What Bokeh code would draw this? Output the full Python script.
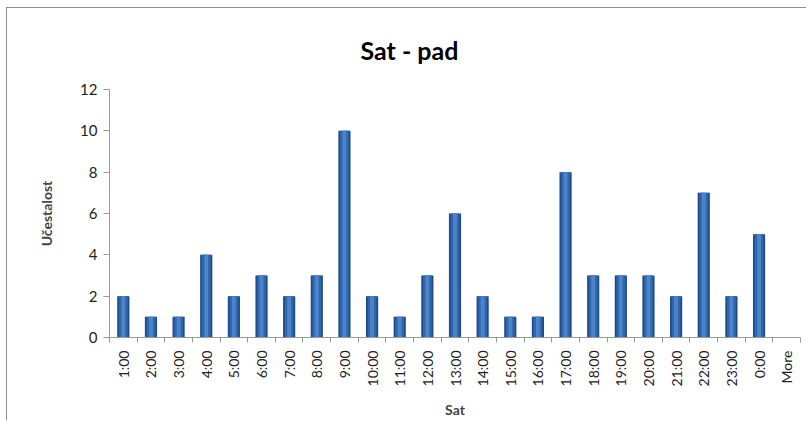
from bokeh.plotting import figure
from bokeh.models import FixedTicker, Range1d, Title
from bokeh.embed import file_html
from bokeh.resources import INLINE
import math

categories = ["1:00", "2:00", "3:00", "4:00", "5:00", "6:00", "7:00", "8:00", "9:00",
              "10:00", "11:00", "12:00", "13:00", "14:00", "15:00", "16:00", "17:00",
              "18:00", "19:00", "20:00", "21:00", "22:00", "23:00", "0:00", "More"]
counts = [2, 1, 1, 4, 2, 3, 2, 3, 10, 2, 1, 3, 6, 2, 1, 1, 8, 3, 3, 3, 2, 7, 2, 5, 0]
y_ticks = [0, 2, 4, 6, 8, 10, 12]
title_text = "Sat - pad"

xs = list(range(1, len(categories) + 1))
FONT = "Lato"

p = figure(width=800, height=413, output_backend="svg", toolbar_location=None,
           x_range=Range1d(0.5, len(categories) + 0.5), y_range=Range1d(0, 12),
           min_border_left=102, min_border_right=7, min_border_top=76, min_border_bottom=10,
           styles={"border-left": "1px solid #8c8c8c", "border-top": "1px solid #8c8c8c",
                   "margin-left": "6px", "margin-top": "7px"})

t = Title(text=title_text, align="left", offset=251, text_font=FONT, text_font_size="25px",
          text_font_style="bold", text_color="#000000", standoff=49)
p.add_layout(t, "above")

p.vbar(x=xs, top=counts, width=0.44, fill_color="#1f4a86", line_color=None)
p.vbar(x=xs, top=counts, width=0.32, fill_color="#3166ad", line_color=None)
p.vbar(x=xs, top=counts, width=0.14, fill_color="#4a84cc", line_color=None)

p.xgrid.visible = False
p.ygrid.visible = False
p.outline_line_color = None
p.background_fill_color = "white"
p.border_fill_color = "white"

xa = p.xaxis[0]
xa.ticker = FixedTicker(ticks=xs, minor_ticks=[x + 0.5 for x in [0] + xs])
xa.major_label_overrides = {x: c for x, c in zip(xs, categories)}
xa.major_label_orientation = math.pi / 2
xa.major_tick_out = 0
xa.major_tick_in = 0
xa.minor_tick_out = 5
xa.minor_tick_in = 0
xa.minor_tick_line_color = "#9a9a9a"
xa.axis_line_color = "#9a9a9a"
xa.major_label_text_font = FONT
xa.major_label_text_font_size = "14px"
xa.major_label_text_color = "#222222"
xa.major_label_standoff = 8
xa.axis_label = "Sat"
xa.axis_label_text_font = FONT
xa.axis_label_text_font_size = "14px"
xa.axis_label_text_font_style = "bold"
xa.axis_label_standoff = 12

ya = p.yaxis[0]
ya.ticker = FixedTicker(ticks=y_ticks)
ya.minor_tick_line_color = None
ya.major_tick_out = 6
ya.major_tick_in = 0
ya.major_tick_line_color = "#9a9a9a"
ya.axis_line_color = "#9a9a9a"
ya.major_label_text_font = FONT
ya.major_label_text_font_size = "15px"
ya.major_label_text_color = "#222222"
ya.major_label_standoff = 6
ya.axis_label = "Učestalost"
ya.axis_label_text_font = FONT
ya.axis_label_text_font_size = "14px"
ya.axis_label_text_font_style = "bold"
ya.axis_label_standoff = 22

open("out.html", "w").write(file_html(p, INLINE))
